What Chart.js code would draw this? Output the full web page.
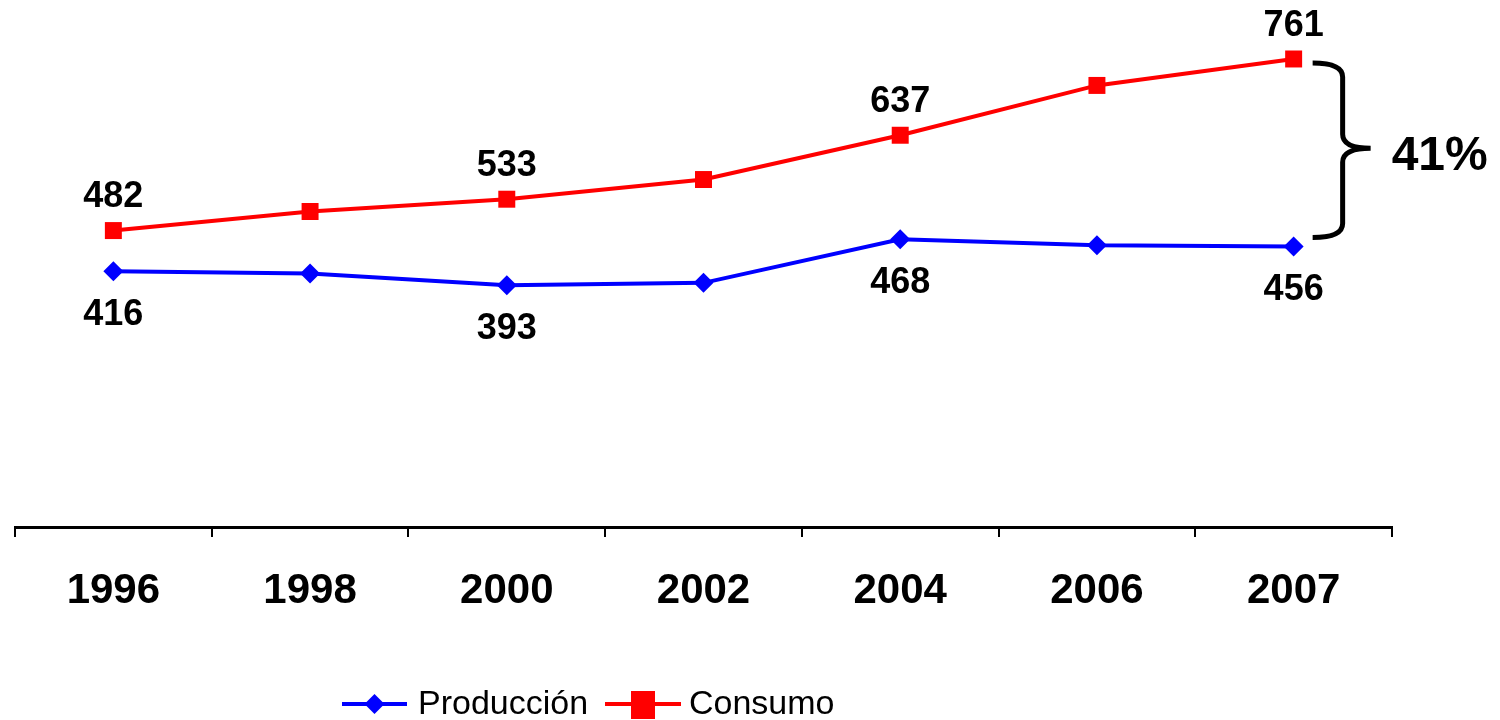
<!DOCTYPE html>
<html>
<head>
<meta charset="utf-8">
<script src="https://cdn.jsdelivr.net/npm/chart.js@4.4.0/dist/chart.umd.min.js"></script>
<style>
    html, body { margin: 0; padding: 0; background: #fff; }
    #wrap { width: 1500px; height: 720px; }
</style>
</head>
<body>
<div id="wrap"><canvas id="chart" width="1500" height="720"></canvas></div>
<script>
// Data
const years = ['1996', '1998', '2000', '2002', '2004', '2006', '2007'];
const produccion = [416, 412, 393, 397, 468, 458, 456];
const consumo = [482, 513, 533, 565, 637, 718, 761];
const labelledIdx = [0, 2, 4, 6];
const gapLabel = '41%';

const FONT = '"Liberation Sans", Arial, sans-serif';

// Value labels, brace and legend drawn on top
const overlayPlugin = {
    id: 'overlay',
    afterDatasetsDraw(chart) {
        const ctx = chart.ctx;
        const prodMeta = chart.getDatasetMeta(0);
        const consMeta = chart.getDatasetMeta(1);
        ctx.save();
        ctx.fillStyle = '#000';
        ctx.font = 'bold 36px ' + FONT;
        ctx.textAlign = 'center';
        ctx.textBaseline = 'middle';
        labelledIdx.forEach(function(i) {
            const pc = consMeta.data[i];
            ctx.fillText(String(consumo[i]), pc.x, pc.y - 33);
            const pp = prodMeta.data[i];
            ctx.fillText(String(produccion[i]), pp.x, pp.y + 44);
        });

        // Brace between last values
        const last = years.length - 1;
        const yScale = chart.scales.y;
        const x0 = consMeta.data[last].x + 19;
        const yTop = yScale.getPixelForValue(consumo[last]) + 4;
        const yBot = yScale.getPixelForValue(produccion[last]) - 9;
        const yMid = (yTop + yBot) / 2 - 2;
        const xv = x0 + 30;
        const xTip = x0 + 58;
        const r = 14;
        ctx.strokeStyle = '#000';
        ctx.lineWidth = 5;
        ctx.lineCap = 'butt';
        ctx.beginPath();
        ctx.moveTo(x0, yTop);
        ctx.quadraticCurveTo(xv, yTop, xv, yTop + r);
        ctx.lineTo(xv, yMid - r);
        ctx.quadraticCurveTo(xv, yMid, xTip, yMid);
        ctx.quadraticCurveTo(xv, yMid, xv, yMid + r);
        ctx.lineTo(xv, yBot - r);
        ctx.quadraticCurveTo(xv, yBot, x0, yBot);
        ctx.stroke();

        ctx.font = 'bold 48px ' + FONT;
        ctx.textAlign = 'left';
        ctx.fillText(gapLabel, xTip + 21, yMid + 8);

        // Legend: line with marker
        const legendY = 704;
        const items = [
            { ds: chart.data.datasets[0], x: 342, w: 65, tx: 418 },
            { ds: chart.data.datasets[1], x: 605, w: 76, tx: 689 }
        ];
        items.forEach(function(it) {
            ctx.strokeStyle = it.ds.borderColor;
            ctx.lineWidth = 4;
            ctx.beginPath();
            ctx.moveTo(it.x, legendY);
            ctx.lineTo(it.x + it.w, legendY);
            ctx.stroke();
            ctx.fillStyle = it.ds.borderColor;
            const cx = it.x + it.w / 2;
            if (it.ds.pointStyle === 'rectRot') {
                ctx.beginPath();
                ctx.moveTo(cx, legendY - 10);
                ctx.lineTo(cx + 10, legendY);
                ctx.lineTo(cx, legendY + 10);
                ctx.lineTo(cx - 10, legendY);
                ctx.closePath();
                ctx.fill();
            } else {
                ctx.fillRect(cx - 12, legendY - 13, 24, 28);
            }
            ctx.fillStyle = '#000';
            ctx.font = '34px ' + FONT;
            ctx.textAlign = 'left';
            ctx.textBaseline = 'middle';
            ctx.fillText(it.ds.label, it.tx, legendY + 1);
        });
        ctx.restore();
    }
};

const ctx = document.getElementById('chart').getContext('2d');
new Chart(ctx, {
    type: 'line',
    data: {
        labels: years,
        datasets: [
            {
                label: 'Producción',
                data: produccion,
                borderColor: '#0000ff',
                backgroundColor: '#0000ff',
                borderWidth: 4,
                pointStyle: 'rectRot',
                pointRadius: 10,
                pointBorderWidth: 0,
                tension: 0
            },
            {
                label: 'Consumo',
                data: consumo,
                borderColor: '#ff0000',
                backgroundColor: '#ff0000',
                borderWidth: 4,
                pointStyle: 'rect',
                pointRadius: 12,
                pointBorderWidth: 0,
                tension: 0
            }
        ]
    },
    options: {
        responsive: false,
        animation: false,
        layout: {
            padding: { left: 15, right: 108, top: 35, bottom: 0 }
        },
        plugins: {
            legend: { display: false },
            tooltip: { enabled: false }
        },
        scales: {
            y: {
                display: false,
                min: 0,
                max: 800
            },
            x: {
                offset: true,
                afterFit: function(scale) { scale.height = 193; },
                border: { display: true, color: '#000', width: 3 },
                grid: {
                    offset: true,
                    drawOnChartArea: false,
                    drawTicks: true,
                    tickLength: 10,
                    color: '#000',
                    lineWidth: 2
                },
                ticks: {
                    color: '#000',
                    padding: 29,
                    font: { family: FONT, size: 42, weight: 'bold' }
                }
            }
        }
    },
    plugins: [overlayPlugin]
});
</script>
</body>
</html>
